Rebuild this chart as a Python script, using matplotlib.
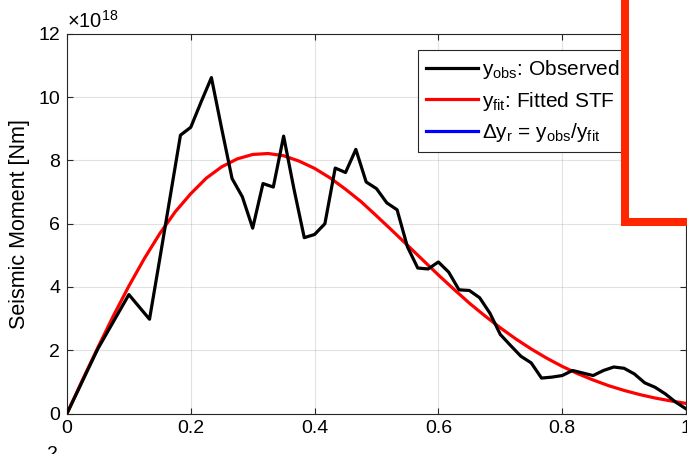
import numpy as np
import matplotlib
matplotlib.use("Agg")
import matplotlib.pyplot as plt
from matplotlib.patches import Rectangle

plt.rcParams['font.family'] = ['Liberation Sans', 'DejaVu Sans']
plt.rcParams['mathtext.fontset'] = 'custom'
plt.rcParams['mathtext.rm'] = 'Liberation Sans'
plt.rcParams['mathtext.it'] = 'Liberation Sans:italic'

# observed moment (x1e18 Nm), sampled at k/60 of normalised time
obs_t = np.arange(61) / 60
obs_m = [0.0, 0.68, 1.37, 2.05, 2.62, 3.19, 3.76, 3.37, 2.98, 4.9,
         6.85, 8.8, 9.05, 9.85, 10.62, 9.0, 7.43, 6.85, 5.86, 7.27,
         7.16, 8.77, 7.1, 5.56, 5.66, 6.0, 7.76, 7.62, 8.35, 7.32,
         7.11, 6.66, 6.44, 5.27, 4.6, 4.57, 4.79, 4.47, 3.91, 3.89,
         3.66, 3.17, 2.5, 2.15, 1.81, 1.6, 1.12, 1.15, 1.2, 1.36,
         1.28, 1.2, 1.36, 1.47, 1.43, 1.25, 0.97, 0.83, 0.62, 0.36, 0.15]

# fitted STF read every 0.025
fit_t = np.arange(41) * 0.025
fit_m = [0.0, 1.06, 2.09, 3.09, 4.03, 4.90, 5.69, 6.38, 6.95, 7.44,
         7.80, 8.05, 8.19, 8.22, 8.15, 7.98, 7.75, 7.45, 7.09, 6.70,
         6.25, 5.79, 5.32, 4.85, 4.38, 3.93, 3.49, 3.09, 2.71, 2.36,
         2.04, 1.75, 1.49, 1.26, 1.06, 0.88, 0.73, 0.60, 0.49, 0.40, 0.32]

labels = [r'$\mathrm{y_{obs}}$: Observed',
          r'$\mathrm{y_{fit}}$: Fitted STF',
          r'$\Delta\mathrm{y_r}$ = $\mathrm{y_{obs}/y_{fit}}$']

fig = plt.figure(figsize=(6.87, 4.54), dpi=100)
ax = fig.add_axes([0.0975, 0.0892, 0.901, 0.836])

ax.plot(obs_t, obs_m, color='black', lw=2.3, label=labels[0], zorder=3)
ax.plot(fit_t, fit_m, color='red', lw=2.3, label=labels[1], zorder=2)
ax.plot([], [], color='blue', lw=2.3, label=labels[2])

ax.set_xlim(0, 1)
ax.set_ylim(0, 12)
ax.set_xticks([0, 0.2, 0.4, 0.6, 0.8, 1])
ax.set_xticklabels(['0', '0.2', '0.4', '0.6', '0.8', '1'])
ax.set_yticks(range(0, 13, 2))
ax.grid(True, color='#262626', alpha=0.13, lw=0.8)
ax.set_axisbelow(True)
ax.tick_params(direction='in', length=4, width=0.8, top=True, right=True,
               labelsize=14, colors='#262626', labelcolor='black', pad=5)
for s in ax.spines.values():
    s.set_color('#262626')
    s.set_linewidth(0.8)
ax.set_ylabel('Seismic Moment [Nm]', fontsize=15.5, labelpad=6)
ax.text(0.0, 1.005, r'$\times\mathrm{10^{18}}$', transform=ax.transAxes,
        ha='left', va='bottom', fontsize=14.5)

leg = ax.legend(loc='upper left', bbox_to_anchor=(0.567, 0.958), borderaxespad=0,
                fontsize=15, handlelength=2.5, handletextpad=0.2,
                labelspacing=0.42, borderpad=0.38, fancybox=False, framealpha=1)
leg.get_frame().set_edgecolor('#262626')
leg.get_frame().set_linewidth(0.8)

# red box on top (partly outside the figure)
box = Rectangle((624.7 / 687, 1 - 222 / 454), 0.2, 0.6, transform=fig.transFigure,
                facecolor='white', edgecolor='#ff2600', lw=5.8, zorder=10,
                clip_on=False)
fig.patches.append(box)

# top of the next panel's tick label
fig.text(0.069, 0.017, '2', fontsize=14, ha='left', va='top')

fig.savefig('out.png', dpi=100)
